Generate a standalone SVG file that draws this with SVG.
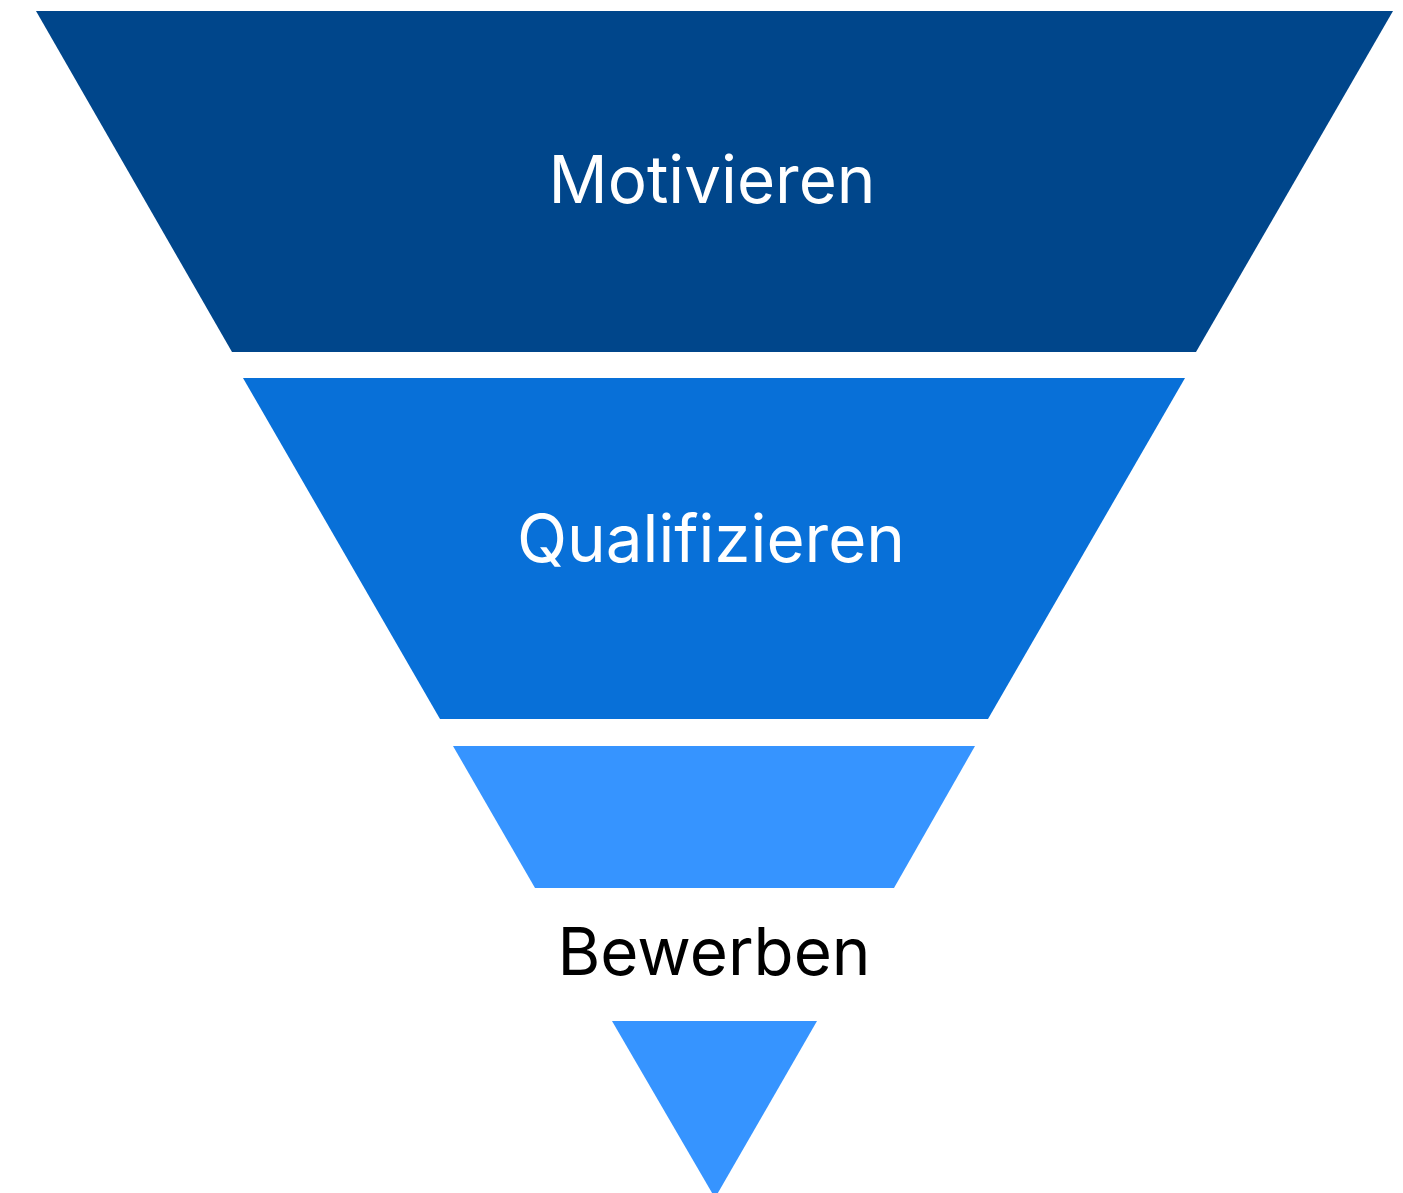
<svg xmlns="http://www.w3.org/2000/svg" width="1403" height="1193" viewBox="0 0 1403 1193">
<style>
.lbl{font-family:Inter,"Noto Sans","Liberation Sans",sans-serif;font-size:65.5px;text-anchor:middle}
.w{fill:#ffffff}
.k{fill:#000000}
</style>
<rect width="1403" height="1193" fill="#ffffff"/>
<g id="motivieren">
<polygon points="36,11 1393,11 1196,352 232,352" fill="#00468b"/>
<text class="lbl w" x="712" y="203">Motivieren</text>
</g>
<g id="qualifizieren">
<polygon points="243,378 1185,378 988,719 440,719" fill="#0870d8"/>
<text class="lbl w" x="711" y="562">Qualifizieren</text>
</g>
<g id="bewerben">
<polygon points="453,746 975,746 894,888 535,888" fill="#3694ff"/>
<text class="lbl k" x="714" y="975">Bewerben</text>
</g>
<g id="spitze">
<polygon points="612,1021 817,1021 715,1198" fill="#3694ff"/>
</g>
<g id="connectors"></g>
</svg>
